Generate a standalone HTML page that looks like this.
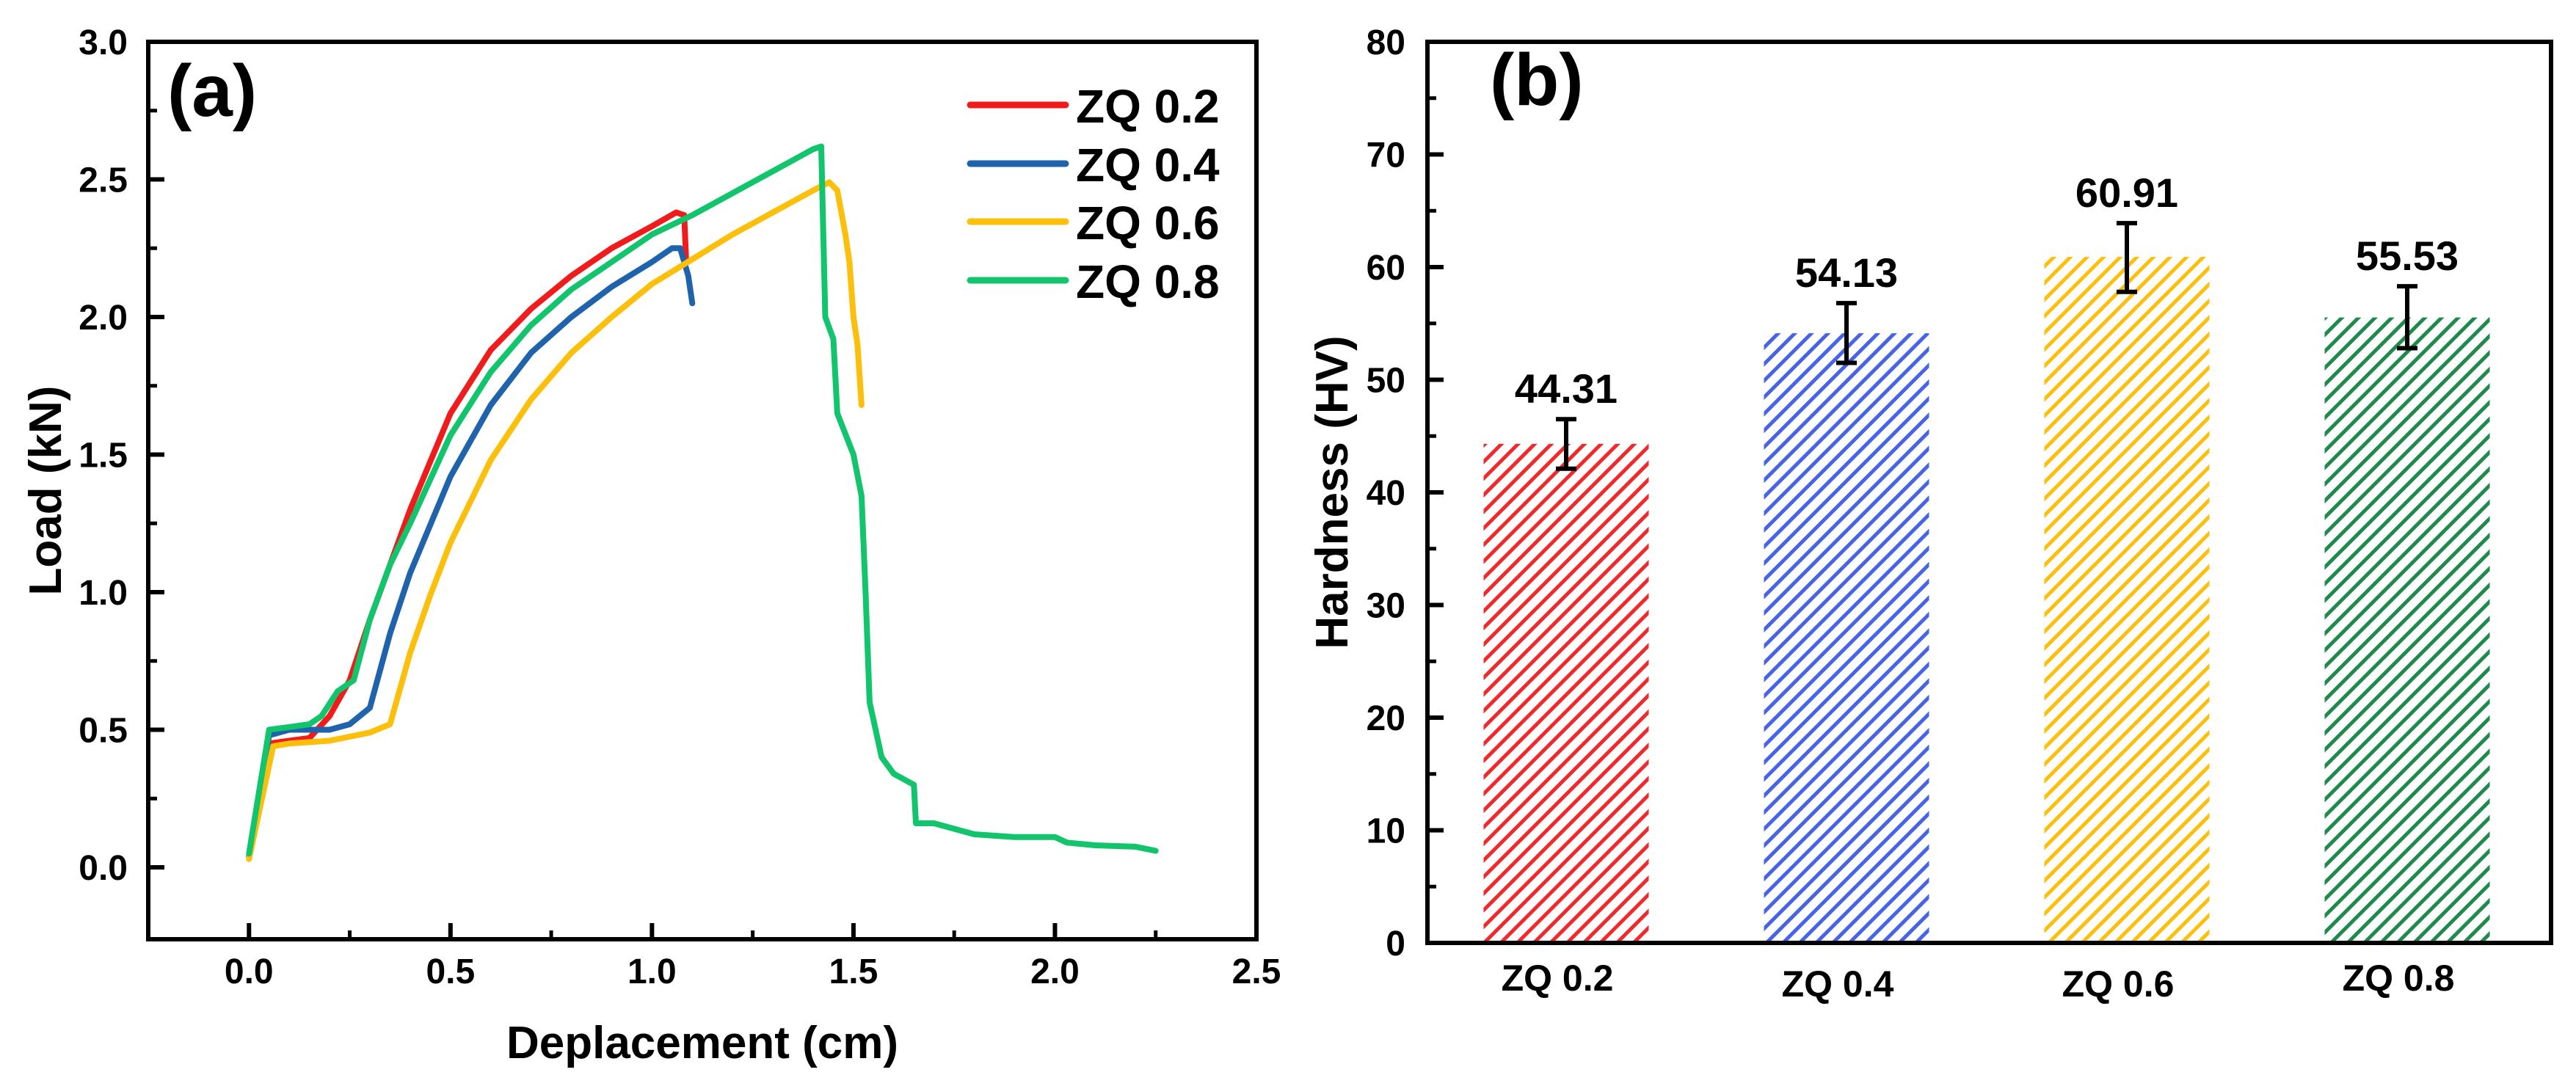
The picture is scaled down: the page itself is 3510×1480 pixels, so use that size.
<!DOCTYPE html>
<html><head><meta charset="utf-8"><style>
body{margin:0;background:#fff}
svg{display:block;font-family:"Liberation Sans",Arial,sans-serif;font-weight:bold}
</style></head><body>
<svg id="fig" width="3510" height="1480" viewBox="0 0 3510 1480" xmlns="http://www.w3.org/2000/svg">
<defs>
<pattern id="h-red" patternUnits="userSpaceOnUse" width="16" height="16" patternTransform="rotate(-45)"><rect x="0" y="0" width="16" height="5" fill="#f0292d"/></pattern>
<pattern id="h-blue" patternUnits="userSpaceOnUse" width="16" height="16" patternTransform="rotate(-45)"><rect x="0" y="0" width="16" height="5" fill="#4763e6"/></pattern>
<pattern id="h-yellow" patternUnits="userSpaceOnUse" width="16" height="16" patternTransform="rotate(-45)"><rect x="0" y="0" width="16" height="5" fill="#fbbf0c"/></pattern>
<pattern id="h-green" patternUnits="userSpaceOnUse" width="16" height="16" patternTransform="rotate(-45)"><rect x="0" y="0" width="16" height="5" fill="#1e8a4c"/></pattern>
</defs>
<g id="pa"></g>
<g id="pb"></g>
</svg>
<script>
// Panel (a) data
const seriesNames = ["ZQ 0.2","ZQ 0.4","ZQ 0.6","ZQ 0.8"];
const seriesColors = ["#f01c1c","#1f63ad","#fcbf0c","#12c46c"];
const zq02 = [[0,0.04],[0.05,0.45],[0.1,0.46],[0.15,0.47],[0.2,0.55],[0.25,0.68],[0.3,0.9],[0.35,1.1],[0.4,1.3],[0.5,1.65],[0.6,1.88],[0.7,2.03],[0.8,2.15],[0.9,2.25],[1.0,2.33],[1.06,2.38],[1.08,2.37],[1.085,2.2]];
const zq04 = [[0,0.04],[0.05,0.48],[0.1,0.5],[0.2,0.5],[0.25,0.52],[0.3,0.58],[0.35,0.85],[0.4,1.07],[0.5,1.42],[0.6,1.68],[0.7,1.87],[0.8,2.0],[0.9,2.11],[1.0,2.2],[1.05,2.25],[1.07,2.25],[1.09,2.15],[1.1,2.05]];
const zq06 = [[0,0.03],[0.06,0.44],[0.1,0.45],[0.2,0.46],[0.3,0.49],[0.35,0.52],[0.4,0.78],[0.45,0.99],[0.5,1.18],[0.6,1.48],[0.7,1.7],[0.8,1.87],[0.9,2.0],[1.0,2.12],[1.1,2.21],[1.2,2.3],[1.3,2.38],[1.4,2.46],[1.44,2.49],[1.46,2.46],[1.48,2.3],[1.49,2.2],[1.5,2.0],[1.51,1.9],[1.52,1.68]];
const zq08 = [[0,0.05],[0.05,0.5],[0.1,0.51],[0.15,0.52],[0.18,0.55],[0.22,0.64],[0.26,0.68],[0.3,0.9],[0.35,1.1],[0.4,1.25],[0.5,1.57],[0.6,1.8],[0.7,1.97],[0.8,2.1],[0.9,2.2],[1.0,2.3],[1.1,2.37],[1.2,2.45],[1.3,2.53],[1.4,2.61],[1.42,2.62],[1.43,2.0],[1.45,1.92],[1.46,1.65],[1.5,1.5],[1.52,1.35],[1.53,1.0],[1.54,0.6],[1.57,0.4],[1.6,0.34],[1.65,0.3],[1.655,0.16],[1.7,0.16],[1.8,0.12],[1.9,0.11],[2.0,0.11],[2.03,0.09],[2.1,0.08],[2.2,0.075],[2.25,0.06]];
const xTicksA = ["0.0","0.5","1.0","1.5","2.0","2.5"];
const yTicksA = ["0.0","0.5","1.0","1.5","2.0","2.5","3.0"];
// Panel (b) data
const categories = ["ZQ 0.2","ZQ 0.4","ZQ 0.6","ZQ 0.8"];
const hardness = [44.31,54.13,60.91,55.53];
const errLow = [42.1,51.5,57.8,52.8];
const errHigh = [46.5,56.8,63.9,58.3];
const barFills = ["url(#h-red)","url(#h-blue)","url(#h-yellow)","url(#h-green)"];
const yTicksB = ["0","10","20","30","40","50","60","70","80"];

const NS="http://www.w3.org/2000/svg";
function mk(parent,tag,attrs,text){const e=document.createElementNS(NS,tag);for(const k in attrs)e.setAttribute(k,attrs[k]);if(text!==undefined)e.textContent=text;parent.appendChild(e);return e;}

// ---- Panel A
const pa=document.getElementById('pa');
const A={l:202,r:1712,t:57,b:1280,x0:-0.25,x1:2.5,y1:3.0};
A.y0 = 3.0 - (A.b-A.t)/375;
const ax=v=>A.l+(v-A.x0)/(A.x1-A.x0)*(A.r-A.l);
const ay=v=>A.b-(v-A.y0)/(A.y1-A.y0)*(A.b-A.t);
const allSeries=[zq02,zq04,zq06,zq08];
allSeries.forEach((s,i)=>{
  const p=mk(pa,'polyline',{points:s.map(d=>ax(d[0]).toFixed(1)+','+ay(d[1]).toFixed(1)).join(' '),fill:'none',stroke:seriesColors[i],'stroke-width':8,'stroke-linejoin':'round','stroke-linecap':'round'});
  
  
});
let fr=mk(pa,'rect',{x:A.l,y:A.t,width:A.r-A.l,height:A.b-A.t,fill:'none',stroke:'#000','stroke-width':6});


yTicksA.forEach(t=>{
  const v=parseFloat(t),y=ay(v);
  mk(pa,'line',{x1:A.l,x2:A.l+22,y1:y,y2:y,stroke:'#000','stroke-width':6});
  const m=ay(v+0.25); if(v<3) mk(pa,'line',{x1:A.l,x2:A.l+12,y1:m,y2:m,stroke:'#000','stroke-width':5});
  const tx=mk(pa,'text',{x:A.l-28,y:y+17,'text-anchor':'end','font-size':48},t);
  
  
});
xTicksA.forEach(t=>{
  const v=parseFloat(t),x=ax(v);
  mk(pa,'line',{x1:x,x2:x,y1:A.b,y2:A.b-22,stroke:'#000','stroke-width':6});
  const m=ax(v-0.25); mk(pa,'line',{x1:m,x2:m,y1:A.b,y2:A.b-12,stroke:'#000','stroke-width':5});
  const tx=mk(pa,'text',{x:x,y:1340,'text-anchor':'middle','font-size':48},t);
  
  
});
let t1=mk(pa,'text',{x:(A.l+A.r)/2,y:1442,'text-anchor':'middle','font-size':62},'Deplacement (cm)');


let t2=mk(pa,'text',{x:0,y:0,transform:'translate(83,'+((A.t+A.b)/2)+') rotate(-90)','text-anchor':'middle','font-size':62},'Load (kN)');


let la=mk(pa,'text',{x:228,y:158,'font-size':100},'(a)');


const legY=[143,223,302,382];
seriesNames.forEach((n,i)=>{
  const g=mk(pa,'g',{});
  
  
  mk(g,'line',{x1:1322,x2:1452,y1:legY[i],y2:legY[i],stroke:seriesColors[i],'stroke-width':9,'stroke-linecap':'round'});
  mk(g,'text',{x:1466,y:legY[i]+24,'font-size':64},n);
});

// ---- Panel B
const pb=document.getElementById('pb');
const B={l:1945,r:3476,t:57,b:1285,y0:0,y1:80};
const by=v=>B.b-(v-B.y0)/(B.y1-B.y0)*(B.b-B.t);
const bx=i=>2134+i*382;
const bw=225;
categories.forEach((c,i)=>{
  const r=mk(pb,'rect',{x:bx(i)-bw/2,y:by(hardness[i]),width:bw,height:B.b-by(hardness[i]),fill:barFills[i]});
  
  
  const g=mk(pb,'g',{stroke:'#000','stroke-width':6});
  
  
  mk(g,'line',{x1:bx(i),x2:bx(i),y1:by(errLow[i]),y2:by(errHigh[i])});
  mk(g,'line',{x1:bx(i)-14,x2:bx(i)+14,y1:by(errLow[i]),y2:by(errLow[i])});
  mk(g,'line',{x1:bx(i)-14,x2:bx(i)+14,y1:by(errHigh[i]),y2:by(errHigh[i])});
  const vl=mk(pb,'text',{x:bx(i),y:by(errHigh[i])-22,'text-anchor':'middle','font-size':56},hardness[i].toFixed(2));
  
  
  const cl=mk(pb,'text',{x:bx(i)-12,y:(i===1||i===2?1358:1350),'text-anchor':'middle','font-size':50},c);
  
  
});
let fb=mk(pb,'rect',{x:B.l,y:B.t,width:B.r-B.l,height:B.b-B.t,fill:'none',stroke:'#000','stroke-width':6});


yTicksB.forEach(t=>{
  const v=parseFloat(t),y=by(v);
  mk(pb,'line',{x1:B.l,x2:B.l+22,y1:y,y2:y,stroke:'#000','stroke-width':6});
  if(v<80){const m=by(v+5);mk(pb,'line',{x1:B.l,x2:B.l+12,y1:m,y2:m,stroke:'#000','stroke-width':5});}
  const tx=mk(pb,'text',{x:B.l-30,y:y+17,'text-anchor':'end','font-size':48},t);
  
  
});
let t3=mk(pb,'text',{x:0,y:0,transform:'translate(1836,'+((B.t+B.b)/2)+') rotate(-90)','text-anchor':'middle','font-size':62},'Hardness (HV)');


let lb=mk(pb,'text',{x:2030,y:143,'font-size':100},'(b)');


</script>
</body></html>
